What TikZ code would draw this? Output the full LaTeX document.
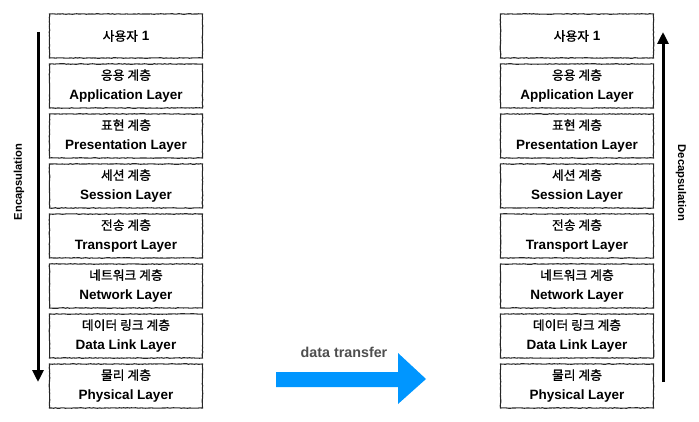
\documentclass[tikz,border=0pt]{standalone}
\usepackage{fontspec}
\setmainfont{Liberation Sans}
\newfontfamily\kr[FakeBold=0.9]{Noto Sans CJK KR}
\usetikzlibrary{arrows.meta,decorations.pathmorphing}
\definecolor{flowblue}{RGB}{0,150,255}
\definecolor{labelgray}{RGB}{78,78,78}
\newcommand{\lay}[2]{{\fontsize{12.8}{20}\selectfont\kr #1}\\{\bfseries #2}}
\begin{document}
\begin{tikzpicture}[x=1pt,y=-1pt,
  layerbox/.style={draw=black!85, line width=1.1pt, minimum width=153pt, minimum height=44pt,
    inner sep=0pt, align=center, font=\fontsize{13.5}{20}\selectfont,
    decorate, decoration={random steps,segment length=2pt,amplitude=0.3pt}},
  flowarrow/.style={line width=3pt, -{Triangle[width=11pt,length=12pt]}},
  sidelabel/.style={font=\fontsize{11.2}{13}\selectfont\bfseries}]
\useasboundingbox (0,0) rectangle (699,422);
% left stack
\node[layerbox] (L1) at (126,36) {{\fontsize{12.8}{20}\selectfont\kr 사용자} \textbf{1}};
\node[layerbox] (L2) at (126,86) {\lay{응용 계층}{Application Layer}};
\node[layerbox] (L3) at (126,136) {\lay{표현 계층}{Presentation Layer}};
\node[layerbox] (L4) at (126,186) {\lay{세션 계층}{Session Layer}};
\node[layerbox] (L5) at (126,236) {\lay{전송 계층}{Transport Layer}};
\node[layerbox] (L6) at (126,286) {\lay{네트워크 계층}{Network Layer}};
\node[layerbox] (L7) at (126,336) {\lay{데이터 링크 계층}{Data Link Layer}};
\node[layerbox] (L8) at (126,386) {\lay{물리 계층}{Physical Layer}};
% right stack
\node[layerbox] (R1) at (577,36) {{\fontsize{12.8}{20}\selectfont\kr 사용자} \textbf{1}};
\node[layerbox] (R2) at (577,86) {\lay{응용 계층}{Application Layer}};
\node[layerbox] (R3) at (577,136) {\lay{표현 계층}{Presentation Layer}};
\node[layerbox] (R4) at (577,186) {\lay{세션 계층}{Session Layer}};
\node[layerbox] (R5) at (577,236) {\lay{전송 계층}{Transport Layer}};
\node[layerbox] (R6) at (577,286) {\lay{네트워크 계층}{Network Layer}};
\node[layerbox] (R7) at (577,336) {\lay{데이터 링크 계층}{Data Link Layer}};
\node[layerbox] (R8) at (577,386) {\lay{물리 계층}{Physical Layer}};
% side arrows
\coordinate (encTop) at (38,32);
\coordinate (encBot) at (38,382);
\coordinate (decBot) at (663,382);
\coordinate (decTop) at (663,32);
\draw[flowarrow] (encTop) -- (encBot);
\draw[flowarrow] (decBot) -- (decTop);
\node[sidelabel, rotate=90] (enc) at (19,182) {Encapsulation};
\node[sidelabel, rotate=-90] (dec) at (681,183) {Decapsulation};
% transfer arrow
\fill[flowblue] (276,372) -- (398,372) -- (398,353) -- (426,379) -- (398,404) -- (398,387) -- (276,387) -- cycle;
\node[font=\fontsize{14.3}{16}\selectfont\bfseries, text=labelgray] (dt) at (344,352) {data transfer};
\end{tikzpicture}
\end{document}
